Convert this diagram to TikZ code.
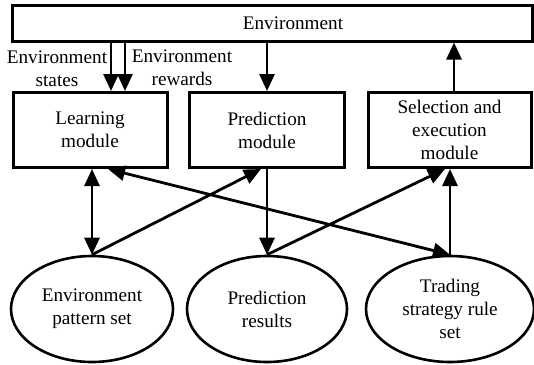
\documentclass[tikz,border=0pt]{standalone}
\usepackage{fontspec}
\setmainfont{Liberation Serif}
\usetikzlibrary{shapes.geometric,arrows.meta}

\tikzset{
	module/.style={draw, line width=1.5pt, minimum width=77pt, minimum height=37.5pt, align=center, inner sep=1pt},
	store/.style={draw, ellipse, line width=1.3pt, minimum width=81pt, minimum height=53pt, align=center, inner sep=0pt},
	flow/.style={line width=1.4pt, -{Triangle[length=8.5pt,width=7.5pt]}},
	twoway/.style={line width=1.4pt, {Triangle[length=8.5pt,width=7.5pt]}-{Triangle[length=8.5pt,width=7.5pt]}}
}

\begin{document}
\begin{tikzpicture}[x=0.5pt, y=-0.5pt, font=\fontsize{9.6}{11.5}\selectfont]
\useasboundingbox (0,0) rectangle (534,364);
\node[draw, line width=1.5pt, minimum width=260pt, minimum height=18pt, label={[xshift=10.5pt]center:Environment}] (env) at (272,23) {};
\node[module] (learn) at (90,130) {Learning\\module};
\node[module, minimum width=77.5pt] (pred) at (267,130) {Prediction\\module};
\node[module, minimum width=81.5pt] (sel) at (449.5,130) {Selection and\\execution\\module};
\node[store] (pattern) at (92,309) {Environment\\pattern set};
\node[store, minimum width=80pt] (results) at (267,309) {Prediction\\results};
\node[store, minimum width=84pt] (trading) at (450,309) {Trading\\strategy rule\\set};
\node[align=center] (states) at (57,69) {Environment\\states};
\node[align=center] (rewards) at (182,68) {Environment\\rewards};

\draw[flow] (env.south -| 111,0) -- (learn.north -| 111,0);
\draw[flow] (env.south -| 125,0) -- (learn.north -| 125,0);
\draw[flow] (env.south -| pred.south) -- (pred.north);
\draw[flow] (sel.north -| 454,0) -- (env.south -| 454,0);
\draw[twoway] (learn.south -| pattern.north) -- (pattern.north);
\draw[flow] (pattern.north) -- (pred.south -| 261,0);
\draw[flow] (pred.south) -- (results.north);
\draw[flow] (results.north) -- (sel.south -| 445,0);
\draw[twoway] (learn.south -| 108,0) -- (trading.north);
\draw[flow] (trading.north) -- (sel.south -| trading.north);
\end{tikzpicture}
\end{document}
